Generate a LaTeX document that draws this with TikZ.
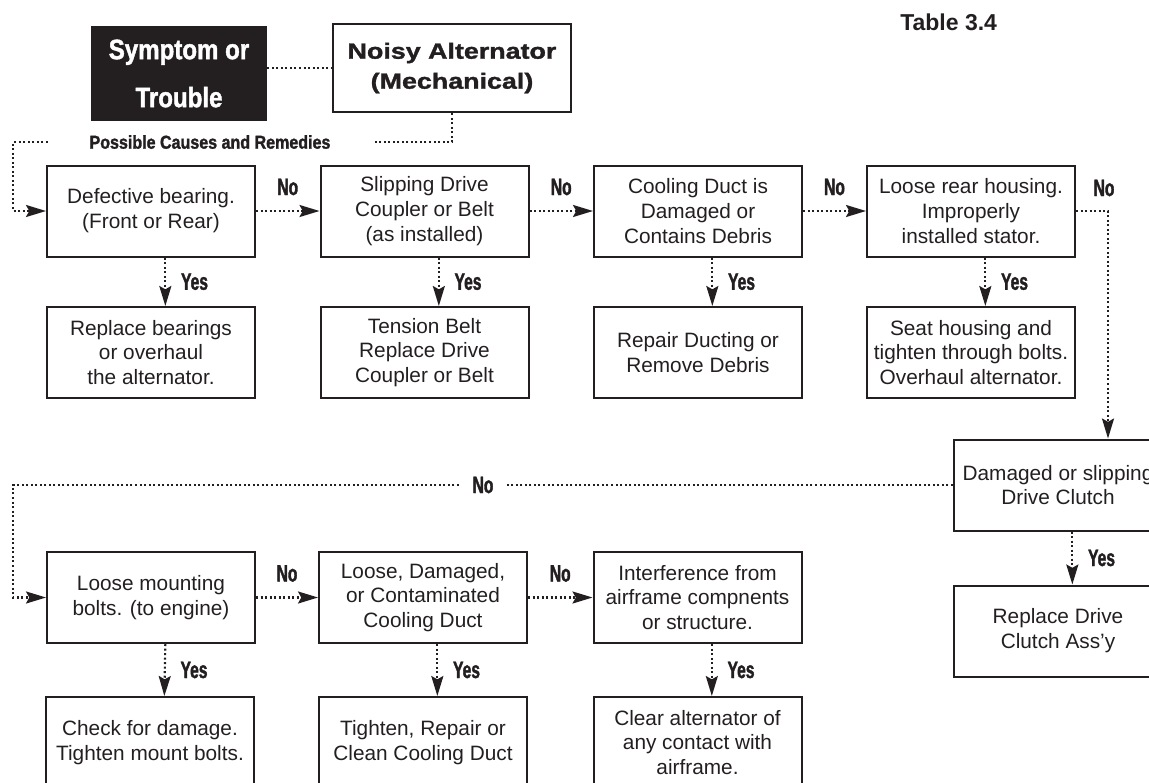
\documentclass[tikz,border=0pt]{standalone}
\usepackage{fontspec}
\usepackage{tikz}
\usetikzlibrary{arrows.meta}
\setmainfont{Liberation Sans}
\newfontfamily\heavyfont[FakeStretch=1.22,FakeBold=1.5]{Liberation Sans}
\newfontfamily\condfont[FakeStretch=0.86,FakeBold=1.5]{Liberation Sans}
\newfontfamily\ynfont[FakeStretch=0.66,FakeBold=1.5]{Liberation Sans}
\definecolor{ink}{HTML}{231F20}

\begin{document}
\begin{tikzpicture}[x=0.75pt,y=0.75pt,yscale=-1,xscale=1,
  box/.style={draw=ink, line width=1.5pt, minimum width=156pt, minimum height=68.25pt,
    inner sep=0pt, align=center, text=ink, font=\fontsize{15.6}{18.6}\selectfont},
  link/.style={draw=ink, line width=1.6pt, dash pattern=on 1.5pt off 1.9pt},
  linkarrow/.style={link, -{Stealth[length=15pt,width=9pt,inset=2.5pt]}},
  yn/.style={text=ink, inner sep=0pt, font=\ynfont\bfseries\fontsize{17.75}{20}\selectfont},
]
%set diagram size 1149 x 782
\useasboundingbox (0,0) rectangle (1149,782);
\clip (0,0) rectangle (1149,782);

% Title nodes
\node[fill=ink, minimum width=132pt, minimum height=71.25pt, inner sep=0pt, align=center,
  text=white, font=\condfont\bfseries\fontsize{21}{36}\selectfont] (symptom) at (179,73.5) {Symptom or\\Trouble};
\node[draw=ink, line width=1.7pt, minimum width=178.5pt, minimum height=66pt, inner sep=0pt, align=center,
  text=ink, font=\heavyfont\bfseries\fontsize{16.5}{22.5}\selectfont] (noisy) at (452,68) {Noisy Alternator\\(Mechanical)};
\node[minimum width=243pt, inner sep=0pt, text=ink,
  font=\condfont\bfseries\fontsize{14}{16}\selectfont] (causes) at (210,142) {Possible Causes and Remedies};
\node[anchor=base west, inner sep=0pt, text=ink,
  font=\bfseries\fontsize{17.25}{20}\selectfont] (tablenum) at (900,30) {Table 3.4};

% Causes, first row
\node[box] (b1) at (151,211) {Defective bearing.\\(Front or Rear)};
\node[box] (b2) at (424.5,211) {Slipping Drive\\Coupler or Belt\\(as installed)};
\node[box] (b3) at (698,211) {Cooling Duct is\\Damaged or\\Contains Debris};
\node[box] (b4) at (971,211) {Loose rear housing.\\Improperly\\installed stator.};

% Remedies, first row
\node[box] (r1) at (151,352.5) {Replace bearings\\or overhaul\\the alternator.};
\node[box] (r2) at (424.5,352.5) {Tension Belt\\Replace Drive\\Coupler or Belt};
\node[box] (r3) at (698,352.5) {Repair Ducting or\\Remove Debris};
\node[box] (r4) at (971,352.5) {Seat housing and\\tighten through bolts.\\Overhaul alternator.};

% Drive clutch
\node[box] (dmg) at (1058,485) {Damaged or slipping\\Drive Clutch};
\node[box] (clutch) at (1058,631) {Replace Drive\\Clutch Ass'y};

% Causes, second row
\node[box] (m1) at (151,597.5) {Loose mounting\\bolts. (to engine)};
\node[box] (m2) at (423,597.5) {Loose, Damaged,\\or Contaminated\\Cooling Duct};
\node[box] (m3) at (697.5,597.5) {Interference from\\airframe compnents\\or structure.};

% Remedies, second row
\node[box] (f1) at (150,742.5) {Check for damage.\\Tighten mount bolts.};
\node[box] (f2) at (423,742.5) {Tighten, Repair or\\Clean Cooling Duct};
\node[box] (f3) at (697.5,742.5) {Clear alternator of\\any contact with\\airframe.};

% Rails on the left
\coordinate (railA) at (13,142);
\coordinate (railB) at (13,485);

% Connectors
\draw[link] (noisy.west -| symptom.east) -- (noisy.west);
\draw[link] (noisy.south) |- (causes.east);
\draw[linkarrow] (causes.west) -- (railA) |- (b1.west);

\foreach \a/\b in {b1/b2,b2/b3,b3/b4,m1/m2,m2/m3}
  \draw[linkarrow] (\a.east) -- node[yn, yshift=18pt] {No} (\b.west);

\foreach \a/\b in {b1/r1,b2/r2,b3/r3,b4/r4,m1/f1,m2/f2,m3/f3,dmg/clutch}
  \draw[linkarrow] ([xshift=10.75pt]\a.south) -- node[yn, right, xshift=11pt] {Yes} ([xshift=10.75pt]\b.north);

\draw[linkarrow] (b4.east) -| ([xshift=37.5pt]dmg.north);
\node[yn] (nob4) at (1104,188) {No};

\draw[linkarrow] (dmg.west) -- node[yn, fill=white, minimum width=36pt] {No} (railB) |- (m1.west);

\end{tikzpicture}
\end{document}
